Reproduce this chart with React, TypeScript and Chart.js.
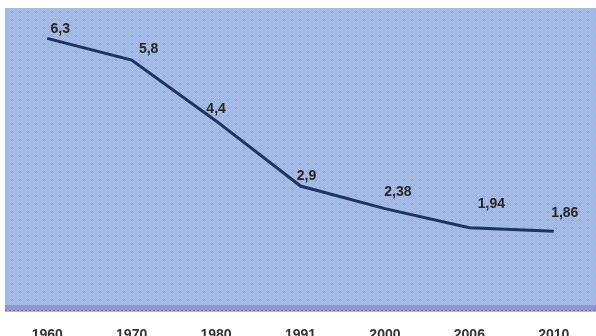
import React, { useEffect, useRef } from "react";
import { Chart, registerables } from "chart.js";

Chart.register(...registerables);

const years = ["1960", "1970", "1980", "1991", "2000", "2006", "2010"];
const fertility = [6.3, 5.8, 4.4, 2.9, 2.38, 1.94, 1.86];
const valueLabels = ["6,3", "5,8", "4,4", "2,9", "2,38", "1,94", "1,86"];

// label placement offsets (style only)
const labelDx = [13, 17, 0, 6, 13, 22, 11];
const labelDy = [5, 7, 8, 6, 13, 20, 14];

function makePattern(ctx: CanvasRenderingContext2D) {
  const c = document.createElement("canvas");
  c.width = 8;
  c.height = 8;
  const p = c.getContext("2d")!;
  p.fillStyle = "#98b4e2";
  p.fillRect(0, 0, 8, 8);
  p.fillStyle = "#a9c2ec";
  for (let y = 0; y < 8; y++) {
    for (let x = 0; x < 8; x++) {
      if ((x + y) % 2 === 0) p.fillRect(x, y, 1, 1);
    }
  }
  p.fillStyle = "#b39ad8";
  p.fillRect(3, 3, 2, 2);
  return ctx.createPattern(c, "repeat");
}

const bgPlugin = {
  id: "bgPlugin",
  beforeDatasetsDraw(chart: any) {
    const { ctx, chartArea } = chart;
    const { left, right, top, bottom } = chartArea;
    ctx.save();
    ctx.fillStyle = makePattern(ctx) || "#9db8e4";
    ctx.fillRect(left, top, right - left, bottom - top);
    ctx.fillStyle = "rgba(150,130,210,0.75)";
    ctx.fillRect(left, bottom - 7, right - left, 5);
    ctx.strokeStyle = "#6f6f8f";
    ctx.setLineDash([2, 2]);
    ctx.lineWidth = 1;
    ctx.beginPath();
    ctx.moveTo(left, bottom - 1.5);
    ctx.lineTo(right, bottom - 1.5);
    ctx.stroke();
    ctx.restore();
  },
  afterDatasetsDraw(chart: any) {
    const { ctx } = chart;
    const meta = chart.getDatasetMeta(0);
    ctx.save();
    ctx.font = "bold 14px 'Liberation Sans', Arial, sans-serif";
    ctx.fillStyle = "#262626";
    ctx.textAlign = "center";
    ctx.textBaseline = "alphabetic";
    meta.data.forEach((pt: any, i: number) => {
      ctx.fillText(valueLabels[i], pt.x + labelDx[i], pt.y - labelDy[i]);
    });
    ctx.restore();
  },
};

export default function App() {
  const ref = useRef<HTMLCanvasElement>(null);
  useEffect(() => {
    document.body.style.margin = "0";
    const chart = new Chart(ref.current!, {
      type: "line",
      data: {
        labels: years,
        datasets: [
          {
            data: fertility,
            borderColor: "#1f3361",
            borderWidth: 3,
            pointRadius: 0,
            tension: 0,
            fill: false,
          },
        ],
      },
      options: {
        responsive: false,
        animation: false,
        layout: { padding: { left: 5, top: 8, right: 0, bottom: 0 } },
        plugins: { legend: { display: false }, tooltip: { enabled: false } },
        scales: {
          x: {
            offset: true,
            grid: { display: false, drawTicks: false },
            border: { display: false },
            ticks: {
              padding: 15,
              color: "#333",
              font: { size: 14, weight: "bold", family: "'Liberation Sans', Arial, sans-serif" },
              maxRotation: 0,
            },
            afterFit: (s: any) => {
              s.height = 33;
            },
          },
          y: {
            display: false,
            min: 0,
            max: 7,
          },
        },
      },
      plugins: [bgPlugin],
    });
    return () => chart.destroy();
  }, []);
  return (
    <div style={{ position: "absolute", left: 0, top: 0, width: 596, height: 345 }}>
      <canvas ref={ref} width={596} height={345} style={{ width: 596, height: 345 }} />
    </div>
  );
}
